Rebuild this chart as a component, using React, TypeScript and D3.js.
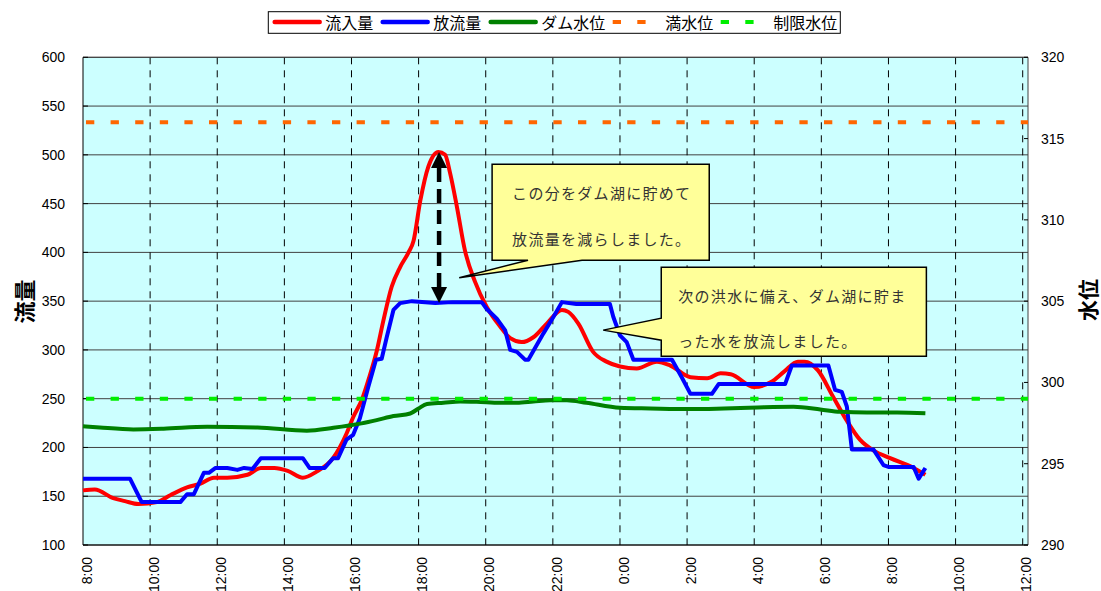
import React from "react";
import * as d3 from "d3";

// time axis labels, every 2 hours starting at 8:00
const timeLabels = [
  "8:00", "10:00", "12:00", "14:00", "16:00", "18:00", "20:00", "22:00",
  "0:00", "2:00", "4:00", "6:00", "8:00", "10:00", "12:00",
];
const flowTicks = [100, 150, 200, 250, 300, 350, 400, 450, 500, 550, 600];
const levelTicks = [290, 295, 300, 305, 310, 315, 320];

// hours after 8:00 / inflow (m3/s)
const inflowHours = [
  0, 0.35, 0.9, 1.25, 1.65, 2.2, 2.6, 3.1, 3.5, 3.9, 4.3, 4.9, 5.3, 5.7, 6.1,
  6.55, 6.95, 7.45, 7.85, 8.05, 8.32, 8.52, 8.76, 8.95, 9.2, 9.45, 9.7, 9.85,
  10.05, 10.29, 10.59, 10.79, 10.94, 11.14, 11.38, 11.68, 12.03, 12.43, 12.73,
  13.07, 13.42, 13.82, 14.27, 14.46, 14.76, 15.2, 15.6, 16.0, 16.5, 17.1, 17.5,
  18.1, 18.6, 19.0, 19.3, 20.0, 20.5, 20.9, 21.3, 21.5, 21.9, 22.35, 22.75,
  23.15, 23.55, 24.05, 24.75, 25.1,
];
const inflow = [
  156, 157, 148, 145, 142, 144, 151, 159, 163, 169, 169, 172, 179, 179, 176,
  169, 175, 189, 214, 231, 250, 271, 300, 330, 365, 385, 400, 412,
  453, 488, 503, 500, 481, 447, 402, 370, 344, 324, 312,
  308, 313, 327, 341, 339, 327, 298, 288, 283, 281, 288, 284,
  272, 271, 276, 275, 262, 267, 278, 288, 288, 279, 252, 228,
  208, 197, 189, 179, 172,
];

// hours after 8:00 / outflow (m3/s)
const outflowHours = [
  0, 1.4, 1.75, 2.9, 3.1, 3.3, 3.6, 3.75, 3.95, 4.3, 4.6, 4.8, 5.05, 5.3, 6.55,
  6.75, 7.2, 7.45, 7.6, 7.85, 8.05, 8.25, 8.5, 8.73, 8.9, 9.05, 9.25, 9.45, 9.8,
  10.5, 11.0, 11.88, 12.03, 12.33, 12.58, 12.73, 12.93, 13.17, 13.27, 13.72,
  14.02, 14.27, 14.7, 15.7, 15.8, 16.0, 16.2, 16.4, 17.55, 17.84, 18.1, 18.74,
  18.94, 20.92, 21.12, 22.21, 22.41, 22.61, 22.76, 22.91, 23.55, 23.85, 24.0,
  24.75, 24.9, 25.1,
];
const outflow = [
  168, 168, 144, 144, 152, 152, 174, 174, 179, 179, 177, 179, 178, 189, 189,
  179, 179, 189, 189, 208, 213, 230, 262, 290, 291, 313, 341, 348, 350,
  348, 349, 349, 342, 332, 320, 300, 298, 290, 290, 317,
  334, 349, 347, 347, 334, 315, 308, 290, 290, 272, 255, 255,
  265, 265, 284, 284, 259, 257, 242, 198, 198, 182, 180,
  180, 168, 179,
];

// hours after 8:00 / dam water level (m)
const levelHours = [
  0, 0.5, 1.5, 2.4, 3.7, 5.2, 6.67, 7.46, 8.3, 8.75, 9.25, 9.75, 10.0, 10.25,
  10.74, 11.24, 11.73, 12.43, 12.93, 13.42, 13.92, 14.42, 15.0, 16.0, 16.9,
  18.1, 19.1, 20.1, 21.17, 21.97, 22.56, 23.36, 24.26, 25.1,
];
const level = [
  297.31, 297.23, 297.11, 297.15, 297.27, 297.23, 297.03, 297.21, 297.48,
  297.68, 297.93, 298.09, 298.4, 298.67, 298.75, 298.83, 298.81, 298.75,
  298.75, 298.83, 298.91, 298.91, 298.75, 298.44, 298.4, 298.36, 298.4,
  298.46, 298.5, 298.34, 298.19, 298.15, 298.15, 298.11,
];

const fullLevel = 316.0; // 満水位
const limitLevel = 299.0; // 制限水位

const legendNames = ["流入量", "放流量", "ダム水位", "満水位", "制限水位"];
const legendColors = ["#ff0000", "#0000ff", "#008000", "#ff6600", "#00ee00"];

const note1 = ["この分をダム湖に貯めて", "放流量を減らしました。"];
const note2 = ["次の洪水に備え、ダム湖に貯ま", "った水を放流しました。"];

const jp = "'Noto Sans CJK JP', sans-serif";
const num = "'Liberation Sans', Arial, sans-serif";

export default function App() {
  const left = 83, right = 1028, top = 57.3, bottom = 545;

  const x = d3.scaleLinear().domain([0, 28]).range([left, 1022.7]);
  const y = d3.scaleLinear().domain([100, 600]).range([bottom, top]);
  const y2 = d3.scaleLinear().domain([290, 320]).range([bottom, top]);

  const inflowPath = d3
    .line<number>()
    .x((d) => x(d))
    .y((d, i) => y(inflow[i]))
    .curve(d3.curveMonotoneX)(inflowHours);
  const outflowPath = d3
    .line<number>()
    .x((d) => x(d))
    .y((d, i) => y(outflow[i]))(outflowHours);
  const levelPath = d3
    .line<number>()
    .x((d) => x(d))
    .y((d, i) => y2(level[i]))
    .curve(d3.curveMonotoneX)(levelHours);

  // callout 1 (box + pointer)
  const c1 = {
    l: x(12.19), r: x(18.66), t: y(490.4), b: y(392),
    p1: x(13.26), p2: x(14.87), tx: x(11.21), ty: y(373.9),
  };
  const call1 = `M${c1.l},${c1.t}H${c1.r}V${c1.b}H${c1.p2}L${c1.tx},${c1.ty}L${c1.p1},${c1.b}H${c1.l}Z`;
  const c2 = {
    l: x(17.23), r: x(25.13), t: y(384.8), b: y(293.6),
    p1: y(332.6), p2: y(310), tx: x(15.5), ty: y(320.3),
  };
  const call2 = `M${c2.l},${c2.t}H${c2.r}V${c2.b}H${c2.l}V${c2.p2}L${c2.tx},${c2.ty}L${c2.l},${c2.p1}Z`;

  // double arrow between peak inflow and outflow
  const ax = x(10.61);
  const aTop = y(503);
  const aBot = y(348);
  const head = 16;

  // legend layout
  let cursor = 272.7;
  const legendItems = legendNames.map((name, i) => {
    const item = { name, color: legendColors[i], x: cursor, dashed: i >= 3 };
    cursor += 49 + 3.5 + name.length * 16 + 7.5;
    return item;
  });

  return (
    <svg
      width={1101}
      height={591}
      style={{ position: "absolute", left: 0, top: 0, background: "#fff" }}
    >
      <rect x={left} y={top} width={right - left} height={bottom - top} fill="#ccffff" />

      {flowTicks.map((t) => (
        <line key={"g" + t} x1={left} x2={right} y1={y(t)} y2={y(t)} stroke="#404040" strokeWidth={1} />
      ))}
      {timeLabels.map((t, i) =>
        i === 0 ? null : (
          <line
            key={"v" + i}
            x1={x(i * 2)}
            x2={x(i * 2)}
            y1={top}
            y2={bottom}
            stroke="#000"
            strokeWidth={1}
            strokeDasharray="7,6"
          />
        )
      )}

      {/* frame */}
      <line x1={left} x2={right} y1={top} y2={top} stroke="#404040" />
      <line x1={right} x2={right} y1={top} y2={bottom} stroke="#404040" />
      <line x1={left} x2={left} y1={top} y2={bottom} stroke="#000" />
      <line x1={left} x2={right} y1={bottom} y2={bottom} stroke="#000" />
      {flowTicks.map((t) => (
        <line key={"lt" + t} x1={left} x2={left + 5} y1={y(t)} y2={y(t)} stroke="#000" />
      ))}
      {levelTicks.map((t) => (
        <line key={"rt" + t} x1={right - 4} x2={right} y1={y2(t)} y2={y2(t)} stroke="#000" />
      ))}

      {/* series */}
      <path d={inflowPath || ""} fill="none" stroke="#ff0000" strokeWidth={4} strokeLinejoin="round" />
      <path d={outflowPath || ""} fill="none" stroke="#0000ff" strokeWidth={4} strokeLinejoin="round" />
      <path d={levelPath || ""} fill="none" stroke="#008000" strokeWidth={4} strokeLinejoin="round" />
      <line
        x1={left + 3}
        x2={right}
        y1={y2(fullLevel)}
        y2={y2(fullLevel)}
        stroke="#ff6600"
        strokeWidth={4}
        strokeDasharray="8.3,16.3"
      />
      <line
        x1={left + 3}
        x2={right}
        y1={y2(limitLevel)}
        y2={y2(limitLevel)}
        stroke="#00ee00"
        strokeWidth={4}
        strokeDasharray="8.3,16.3"
      />

      {/* axis labels */}
      {flowTicks.map((t) => (
        <text key={"yl" + t} x={65} y={y(t)} dominantBaseline="central" textAnchor="end" fontFamily={num} fontSize={14} fill="#000">
          {t}
        </text>
      ))}
      {levelTicks.map((t) => (
        <text key={"yr" + t} x={1041} y={y2(t)} dominantBaseline="central" textAnchor="start" fontFamily={num} fontSize={14} fill="#000">
          {t}
        </text>
      ))}
      {timeLabels.map((t, i) => (
        <text
          key={"xl" + i}
          transform={`translate(${x(i * 2) + 3.7},557) rotate(-90)`}
          dominantBaseline="central"
          textAnchor="end"
          fontFamily={num}
          fontSize={14}
          fill="#000"
        >
          {t}
        </text>
      ))}
      <text transform="translate(22.5,301.5) rotate(-90)" textAnchor="middle" dominantBaseline="central" fontFamily={jp} fontSize={22} fontWeight="bold">
        流量
      </text>
      <text transform="translate(1087,300) rotate(-90)" textAnchor="middle" dominantBaseline="central" fontFamily={jp} fontSize={21} fontWeight="bold">
        水位
      </text>

      {/* arrow */}
      <line x1={ax} x2={ax} y1={aTop + head} y2={aBot - head} stroke="#000" strokeWidth={4.5} strokeDasharray="14,7" />
      <path d={`M${ax},${aTop}L${ax - 8},${aTop + head}L${ax + 8},${aTop + head}Z`} fill="#000" />
      <path d={`M${ax},${aBot}L${ax - 8},${aBot - head}L${ax + 8},${aBot - head}Z`} fill="#000" />

      {/* callouts */}
      <path d={call1} fill="#ffff99" stroke="#000" strokeWidth={1.5} />
      {note1.map((s, i) => (
        <text key={"n1" + i} x={c1.l + 20} y={192 + i * 46} dominantBaseline="central" fontFamily={jp} fontSize={15} letterSpacing={1.3} fill="#333">
          {s}
        </text>
      ))}
      <path d={call2} fill="#ffff99" stroke="#000" strokeWidth={1.5} />
      {note2.map((s, i) => (
        <text key={"n2" + i} x={c2.l + 17} y={295 + i * 45} dominantBaseline="central" fontFamily={jp} fontSize={15} letterSpacing={1.3} fill="#333">
          {s}
        </text>
      ))}

      {/* legend */}
      <rect x={268.3} y={11.7} width={572} height={21.6} fill="#fff" stroke="#000" strokeWidth={1} />
      {legendItems.map((it) => (
        <g key={it.name}>
          {it.dashed ? (
            <line x1={it.x} x2={it.x + 49} y1={22} y2={22} stroke={it.color} strokeWidth={4} strokeDasharray="8.3,16.3" />
          ) : (
            <line x1={it.x + 2} x2={it.x + 47} y1={22} y2={22} stroke={it.color} strokeWidth={4.5} strokeLinecap="round" />
          )}
          <text x={it.x + 52.5} y={22} dominantBaseline="central" fontFamily={jp} fontSize={16} fill="#000">
            {it.name}
          </text>
        </g>
      ))}
    </svg>
  );
}
